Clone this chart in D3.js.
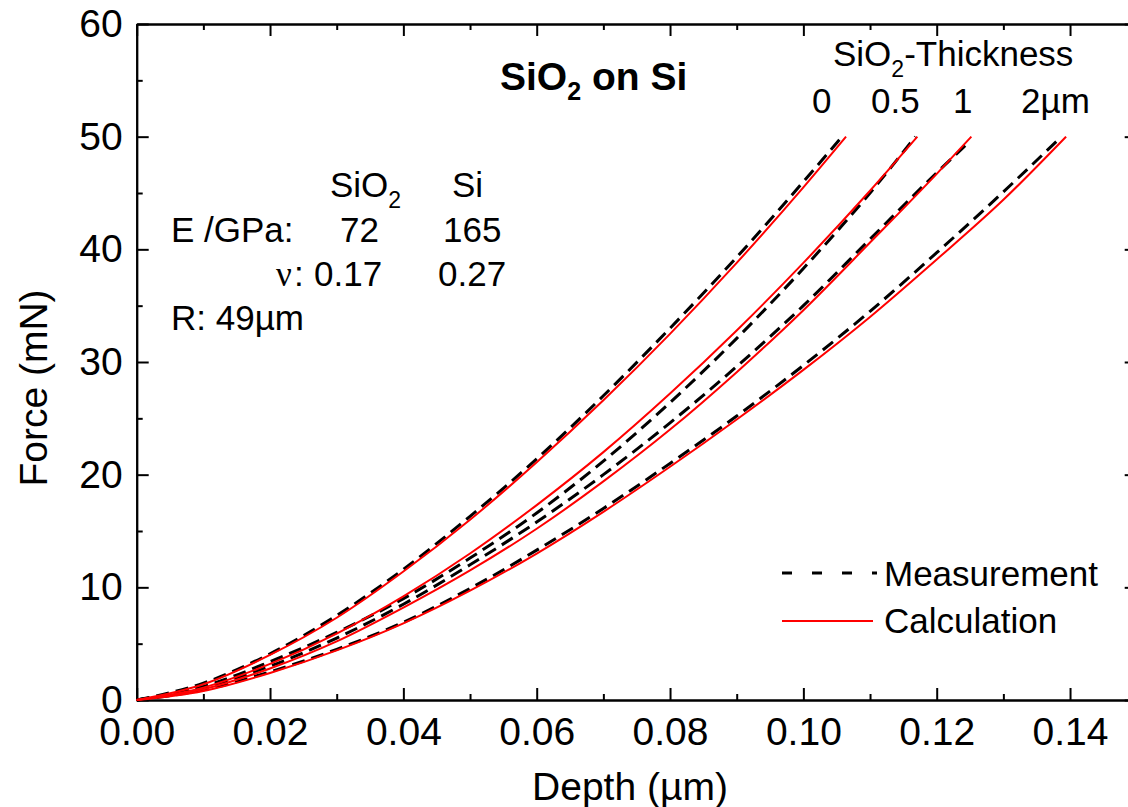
<!DOCTYPE html>
<html>
<head>
<meta charset="utf-8">
<script src="https://cdn.jsdelivr.net/npm/d3@7"></script>
<style>
  body { margin: 0; background: #fff; }
  svg { display: block; font-family: "Liberation Sans", Arial, sans-serif; }
  .axis path, .axis line { stroke: #000; stroke-width: 2; }
  .axis text { font-size: 39px; fill: #000; }
</style>
</head>
<body>
<svg width="1128" height="807"></svg>
<script>
// SiO2 thickness labels
const thickness = ["0", "0.5", "1", "2µm"];

// calculation (red) curves: depth in µm, force in mN
const calcDepth0 = [0, 0.01, 0.02, 0.03, 0.04, 0.05, 0.06, 0.07, 0.08, 0.09, 0.10, 0.1064];
const calcForce0 = [0, 1.4, 4.0, 7.3, 11.4, 16.0, 21.1, 26.6, 32.5, 38.8, 45.5, 50];
const calcDepth05 = [0, 0.01, 0.02, 0.03, 0.04, 0.05, 0.06, 0.07, 0.08, 0.09, 0.10, 0.11, 0.1171];
const calcForce05 = [0, 1.1, 3.2, 5.9, 9.2, 13.0, 17.3, 22.0, 27.2, 32.8, 38.8, 45.2, 50];
const calcDepth1 = [0, 0.01, 0.02, 0.03, 0.04, 0.05, 0.06, 0.07, 0.08, 0.09, 0.10, 0.11, 0.12, 0.1252];
const calcForce1 = [0, 0.95, 2.8, 5.2, 8.2, 11.5, 15.2, 19.4, 24.0, 29.1, 34.6, 40.6, 46.7, 50];
const calcDepth2 = [0, 0.01, 0.02, 0.03, 0.04, 0.05, 0.06, 0.07, 0.08, 0.09, 0.10, 0.11, 0.12, 0.13, 0.1394];
const calcForce2 = [0, 0.8, 2.4, 4.4, 6.8, 9.7, 13.0, 16.7, 20.7, 24.9, 29.3, 34.0, 39.1, 44.4, 50];

// measurement (black dashed) curves
const measDepth0 = [0, 0.01, 0.02, 0.03, 0.04, 0.05, 0.06, 0.07, 0.08, 0.09, 0.10, 0.1058];
const measForce0 = [0, 1.5, 4.1, 7.5, 11.6, 16.3, 21.4, 27.0, 33.0, 39.3, 46.0, 50];
const measDepth05 = [0, 0.01, 0.02, 0.03, 0.04, 0.05, 0.06, 0.07, 0.08, 0.09, 0.10, 0.11, 0.1168];
const measForce05 = [0, 1.2, 3.4, 6.0, 9.0, 12.6, 16.6, 21.2, 26.4, 32.1, 38.3, 45.0, 50];
const measDepth1 = [0, 0.01, 0.02, 0.03, 0.04, 0.05, 0.06, 0.07, 0.08, 0.09, 0.10, 0.11, 0.12, 0.1250];
const measForce1 = [0, 1.1, 3.0, 5.5, 8.5, 12.0, 15.8, 20.0, 24.6, 29.6, 35.0, 40.9, 46.8, 49.6];
const measDepth2 = [0, 0.01, 0.02, 0.03, 0.04, 0.05, 0.06, 0.07, 0.08, 0.09, 0.10, 0.11, 0.12, 0.13, 0.1387];
const measForce2 = [0, 0.9, 2.5, 4.5, 6.9, 9.9, 13.3, 17.0, 21.0, 25.2, 29.7, 34.5, 39.7, 45.1, 50];

// axis ticks
const xTicks = [0, 0.02, 0.04, 0.06, 0.08, 0.10, 0.12, 0.14];
const xMinor = [0.01, 0.03, 0.05, 0.07, 0.09, 0.11, 0.13];
const yTicks = [0, 10, 20, 30, 40, 50, 60];
const yMinor = [5, 15, 25, 35, 45, 55];

const calcCurves = [[calcDepth0, calcForce0], [calcDepth05, calcForce05], [calcDepth1, calcForce1], [calcDepth2, calcForce2]];
const measCurves = [[measDepth0, measForce0], [measDepth05, measForce05], [measDepth1, measForce1], [measDepth2, measForce2]];

const svg = d3.select("svg");
const margin = {left: 136.7, top: 24, right: -8.7, bottom: 107};
const width = 1128 - margin.left - margin.right;
const height = 807 - margin.top - margin.bottom;

const x = d3.scaleLinear().domain([0, 0.15]).range([0, width]);
const y = d3.scaleLinear().domain([0, 60]).range([height, 0]);

const g = svg.append("g").attr("transform", "translate(" + margin.left + "," + margin.top + ")");

// frame axes (ticks inward)
g.append("g").attr("class", "axis")
  .attr("transform", "translate(0," + height + ")")
  .call(d3.axisBottom(x).tickValues(xTicks).tickSizeInner(-12).tickSizeOuter(0).tickPadding(17).tickFormat(d3.format(".2f")));
g.append("g").attr("class", "axis")
  .attr("transform", "translate(0," + height + ")")
  .call(d3.axisBottom(x).tickValues(xMinor).tickSizeInner(-6).tickSizeOuter(0).tickFormat(""));
g.append("g").attr("class", "axis")
  .call(d3.axisTop(x).tickValues(xTicks).tickSizeInner(-12).tickSizeOuter(0).tickFormat(""));
g.append("g").attr("class", "axis")
  .call(d3.axisTop(x).tickValues(xMinor).tickSizeInner(-6).tickSizeOuter(0).tickFormat(""));

g.append("g").attr("class", "axis")
  .call(d3.axisLeft(y).tickValues(yTicks).tickSizeInner(-12).tickSizeOuter(0).tickPadding(14));
g.append("g").attr("class", "axis")
  .call(d3.axisLeft(y).tickValues(yMinor).tickSizeInner(-6).tickSizeOuter(0).tickFormat(""));
g.append("g").attr("class", "axis")
  .attr("transform", "translate(" + width + ",0)")
  .call(d3.axisRight(y).tickValues(yTicks).tickSizeInner(-12).tickSizeOuter(0).tickFormat(""));
g.append("g").attr("class", "axis")
  .attr("transform", "translate(" + width + ",0)")
  .call(d3.axisRight(y).tickValues(yMinor).tickSizeInner(-6).tickSizeOuter(0).tickFormat(""));

const line = d3.line()
  .x(function (d) { return x(d[0]); })
  .y(function (d) { return y(d[1]); })
  .curve(d3.curveMonotoneX);

function toPoints(c) {
  return c[0].map(function (dv, i) { return [dv, c[1][i]]; });
}

g.append("g").selectAll("path.meas")
  .data(measCurves)
  .enter().append("path")
  .attr("class", "meas")
  .attr("d", function (c) { return line(toPoints(c)); })
  .attr("fill", "none")
  .attr("stroke", "#000")
  .attr("stroke-width", 3)
  .attr("stroke-dasharray", "13,7");

g.append("g").selectAll("path.calc")
  .data(calcCurves)
  .enter().append("path")
  .attr("class", "calc")
  .attr("d", function (c) { return line(toPoints(c)); })
  .attr("fill", "none")
  .attr("stroke", "#ff0000")
  .attr("stroke-width", 2);

// axis titles
svg.append("text")
  .attr("x", 630).attr("y", 800)
  .attr("text-anchor", "middle")
  .attr("font-size", 39)
  .text("Depth (µm)");
svg.append("text")
  .attr("transform", "translate(47,388) rotate(-90)")
  .attr("text-anchor", "middle")
  .attr("font-size", 39)
  .text("Force (mN)");

// title
const title = svg.append("text")
  .attr("x", 500).attr("y", 90)
  .attr("font-size", 39)
  .attr("font-weight", "bold");
title.append("tspan").text("SiO");
title.append("tspan").attr("font-size", 25).attr("dy", 10).text("2");
title.append("tspan").attr("dy", -10).text(" on Si");

// thickness header
const head = svg.append("text")
  .attr("x", 833).attr("y", 66)
  .attr("font-size", 35);
head.append("tspan").text("SiO");
head.append("tspan").attr("font-size", 23).attr("dy", 11).text("2");
head.append("tspan").attr("dy", -11).text("-Thickness");

const thickX = [812, 871, 953, 1021];
svg.append("g").selectAll("text")
  .data(thickness)
  .enter().append("text")
  .attr("x", function (d, i) { return thickX[i]; })
  .attr("y", 113)
  .attr("font-size", 35)
  .text(function (d) { return d; });

// material table
const mat = svg.append("g").attr("font-size", 35);
const sio2 = mat.append("text").attr("x", 330).attr("y", 197);
sio2.append("tspan").text("SiO");
sio2.append("tspan").attr("font-size", 23).attr("dy", 11).text("2");
mat.append("text").attr("x", 452).attr("y", 197).text("Si");
mat.append("text").attr("x", 171).attr("y", 242).text("E /GPa:");
mat.append("text").attr("x", 340).attr("y", 242).text("72");
mat.append("text").attr("x", 443).attr("y", 242).text("165");
mat.append("text").attr("x", 276).attr("y", 286).attr("font-family", "Liberation Serif, serif").text("ν");
mat.append("text").attr("x", 294).attr("y", 286).text(":");
mat.append("text").attr("x", 314).attr("y", 286).text("0.17");
mat.append("text").attr("x", 438).attr("y", 286).text("0.27");
mat.append("text").attr("x", 171).attr("y", 330).text("R: 49µm");

// legend
const legend = svg.append("g").attr("font-size", 35);
legend.append("line")
  .attr("x1", 782).attr("x2", 877).attr("y1", 573).attr("y2", 573)
  .attr("stroke", "#000").attr("stroke-width", 3).attr("stroke-dasharray", "10,20");
legend.append("text").attr("x", 884).attr("y", 586).text("Measurement");
legend.append("line")
  .attr("x1", 782).attr("x2", 873).attr("y1", 621).attr("y2", 621)
  .attr("stroke", "#ff0000").attr("stroke-width", 2);
legend.append("text").attr("x", 884).attr("y", 633).text("Calculation");
</script>
</body>
</html>
